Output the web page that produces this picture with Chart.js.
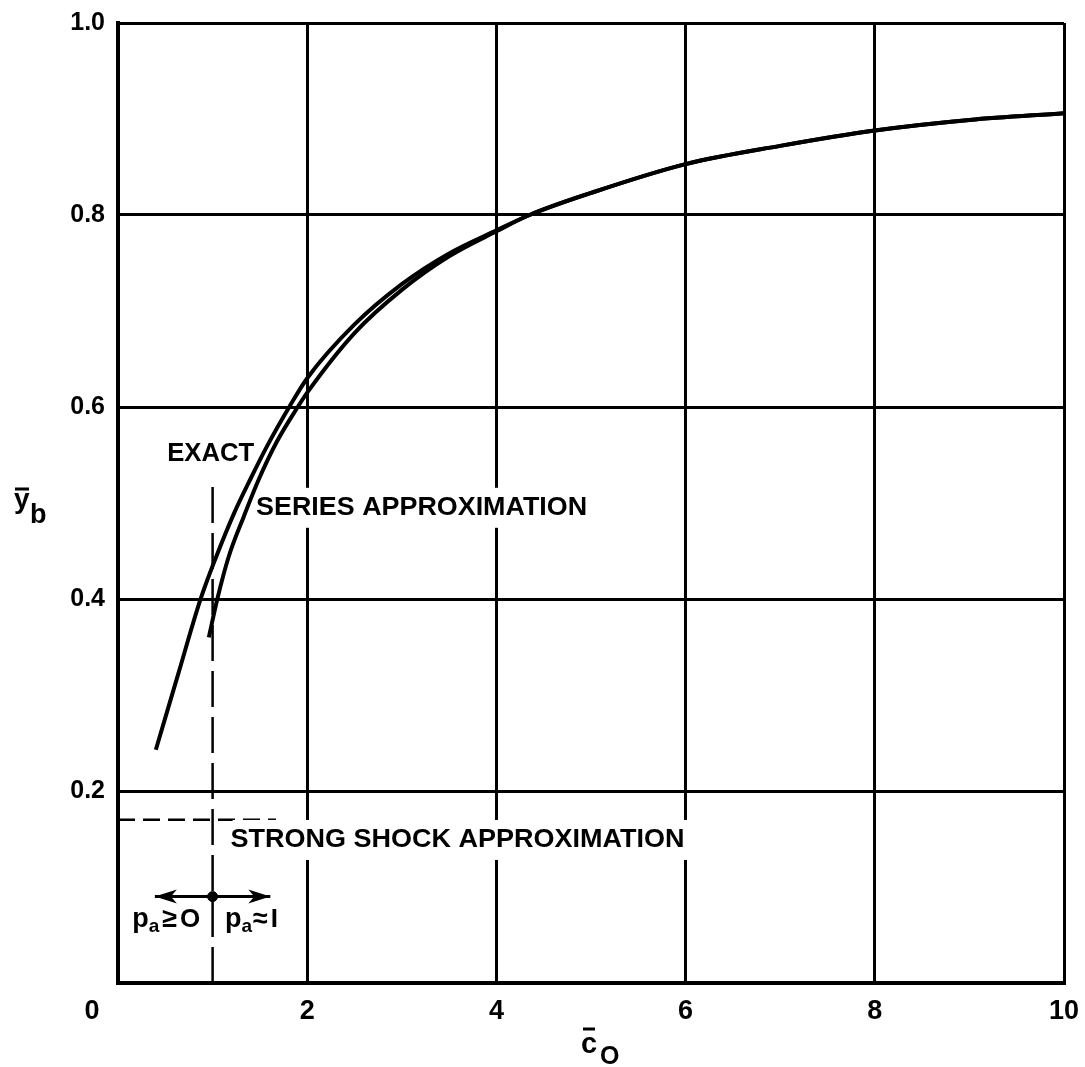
<!DOCTYPE html>
<html>
<head>
<meta charset="utf-8">
<script src="https://cdn.jsdelivr.net/npm/chart.js@4.4.1/dist/chart.umd.min.js"></script>
<style>
  html, body { margin: 0; background: #fff; }
</style>
</head>
<body>
<canvas id="grafico" width="1085" height="1067"></canvas>
<script>
// Dados
const exatoX = [0.40, 0.64, 0.87, 1.03, 1.23, 1.40, 1.58, 1.81, 2.00, 2.50, 3.00, 3.50, 4.00, 4.35, 5.00, 6.00, 7.00, 8.00, 9.00, 10.0];
const exatoY = [0.243, 0.323, 0.399, 0.442, 0.490, 0.525, 0.560, 0.600, 0.630, 0.686, 0.728, 0.760, 0.784, 0.800, 0.823, 0.853, 0.872, 0.888, 0.899, 0.906];

const serieX = [0.96, 1.05, 1.17, 1.33, 1.49, 1.68, 1.90, 2.00, 2.50, 3.00, 3.50, 4.00, 4.35, 5.00, 6.00, 7.00, 8.00, 9.00, 10.0];
const serieY = [0.360, 0.400, 0.444, 0.486, 0.525, 0.564, 0.600, 0.615, 0.677, 0.722, 0.757, 0.783, 0.800, 0.823, 0.853, 0.872, 0.888, 0.899, 0.906];

// linhas tracejadas e seta
const verticalX = [1.0, 1.0];
const verticalY = [0.0, 0.522];
const choqueX = [0.0, 1.67];
const choqueY = [0.17, 0.17];
const setaX = [0.39, 1.61];
const setaY = [0.09, 0.09];
const pontoX = [1.0];
const pontoY = [0.09];

const xTicks = [0, 2, 4, 6, 8, 10];
const yTicks = [0.2, 0.4, 0.6, 0.8, 1.0];

const pares = (xs, ys) => xs.map((x, i) => ({ x: x, y: ys[i] }));

const fonte = 'Liberation Sans';

// textos dentro do gráfico (x, y = canto esquerdo / meio, em valores)
const notas = [
    { texto: 'EXACT', x: 0.52, y: 0.551, largura: 87, fundo: false },
    { texto: 'SERIES APPROXIMATION', x: 1.46, y: 0.495, largura: 331, fundo: true },
    { texto: 'STRONG SHOCK APPROXIMATION', x: 1.19, y: 0.149, largura: 454, fundo: true }
];

function ponta(ctx, px, py, dir) {
    ctx.beginPath();
    ctx.moveTo(px, py);
    ctx.lineTo(px - dir * 22, py - 7);
    ctx.lineTo(px - dir * 16, py);
    ctx.lineTo(px - dir * 22, py + 7);
    ctx.closePath();
    ctx.fill();
}

function escreve(ctx, partes, x0) {
    let x = x0;
    partes.forEach(p => {
        ctx.font = 'bold ' + p.tam + 'px "' + fonte + '"';
        ctx.fillText(p.t, x, p.base);
        x += ctx.measureText(p.t).width + (p.esp || 0);
    });
}

// tira o espaço extra que o Chart.js deixa para os rótulos
function semPadding(s) {
    s.paddingTop = 0;
    s.paddingBottom = 0;
    s.paddingLeft = 0;
    s.paddingRight = 0;
}

const textos = {
    id: 'textos',
    afterDatasetsDraw(chart) {
        const { ctx, chartArea, scales: { x, y } } = chart;
        ctx.save();
        ctx.fillStyle = '#000';
        ctx.textBaseline = 'middle';
        ctx.textAlign = 'left';

        notas.forEach(n => {
            ctx.font = 'bold 25px "' + fonte + '"';
            const px = x.getPixelForValue(n.x);
            const py = y.getPixelForValue(n.y);
            const w = ctx.measureText(n.texto).width;
            if (n.fundo) {
                ctx.fillStyle = '#fff';
                ctx.fillRect(px + 2, py - 20, n.largura + 6, 40);
                ctx.fillStyle = '#000';
            }
            ctx.save();
            ctx.translate(px, py);
            ctx.scale(n.largura / w, 1);
            ctx.fillText(n.texto, 0, 0);
            ctx.restore();
        });

        // pontas da seta
        const meta = chart.getDatasetMeta(4).data;
        ponta(ctx, meta[0].x, meta[0].y, -1);
        ponta(ctx, meta[1].x, meta[1].y, 1);

        // p_a >= 0  |  p_a ~ 1
        ctx.textBaseline = 'alphabetic';
        const base = y.getPixelForValue(0.058);
        escreve(ctx, [
            { t: 'p', tam: 27, base: base },
            { t: 'a', tam: 19, base: base + 5, esp: 3 },
            { t: '≥', tam: 27, base: base, esp: 3 },
            { t: 'O', tam: 26, base: base }
        ], x.getPixelForValue(0.15));
        escreve(ctx, [
            { t: 'p', tam: 27, base: base },
            { t: 'a', tam: 19, base: base + 5, esp: 1 },
            { t: '≈', tam: 27, base: base, esp: 3 },
            { t: 'I', tam: 26, base: base }
        ], x.getPixelForValue(1.13));

        // rótulo 0 do eixo x, deslocado para a esquerda
        ctx.font = 'bold 27px "' + fonte + '"';
        ctx.textAlign = 'center';
        ctx.textBaseline = 'middle';
        ctx.fillText('0', chartArea.left - 26, chartArea.bottom + 29);

        // título do eixo x: c barra, O subscrito
        ctx.textAlign = 'left';
        ctx.textBaseline = 'alphabetic';
        ctx.font = 'bold 29px "' + fonte + '"';
        ctx.fillText('c', 581, 1053);
        ctx.font = 'bold 25px "' + fonte + '"';
        ctx.fillText('O', 600, 1064);
        ctx.lineWidth = 3;
        ctx.beginPath();
        ctx.moveTo(583, 1029);
        ctx.lineTo(595, 1029);
        ctx.stroke();

        // título do eixo y: y barra, b subscrito
        ctx.font = 'bold 28px "' + fonte + '"';
        ctx.fillText('y', 14, 508);
        ctx.font = 'bold 27px "' + fonte + '"';
        ctx.fillText('b', 30, 523);
        ctx.beginPath();
        ctx.moveTo(15, 489);
        ctx.lineTo(29, 489);
        ctx.stroke();

        ctx.restore();
    }
};

const linha = {
    showLine: true,
    borderColor: '#000',
    backgroundColor: '#000',
    pointRadius: 0,
    fill: false
};

new Chart(document.getElementById('grafico'), {
    type: 'scatter',
    data: {
        datasets: [
            { ...linha, label: 'Exact', data: pares(exatoX, exatoY), borderWidth: 4, cubicInterpolationMode: 'monotone' },
            { ...linha, label: 'Series approximation', data: pares(serieX, serieY), borderWidth: 4, cubicInterpolationMode: 'monotone' },
            { ...linha, label: 'c = 1', data: pares(verticalX, verticalY), borderWidth: 2.5, borderDash: [36, 10] },
            { ...linha, label: 'Strong shock approximation', data: pares(choqueX, choqueY), borderWidth: 2.5, borderDash: [17, 8] },
            { ...linha, label: 'seta', data: pares(setaX, setaY), borderWidth: 3 },
            { label: 'ponto', data: pares(pontoX, pontoY), pointRadius: 5, backgroundColor: '#000', borderColor: '#000' }
        ]
    },
    options: {
        responsive: false,
        animation: false,
        devicePixelRatio: 1,
        layout: { padding: { top: 23, right: 21, left: 0, bottom: 0 } },
        plugins: { legend: { display: false }, tooltip: { enabled: false } },
        scales: {
            x: {
                type: 'linear',
                min: 0,
                max: 10,
                afterBuildTicks: s => { s.ticks = xTicks.map(v => ({ value: v })); },
                afterFit: s => { s.height = 84; semPadding(s); },
                ticks: {
                    color: '#000',
                    padding: 12,
                    maxRotation: 0,
                    font: { family: fonte, weight: 'bold', size: 27 },
                    callback: v => (v === 0 ? '' : String(v))
                },
                grid: { color: '#000', lineWidth: 3, drawTicks: false },
                border: { color: '#000', width: 4 }
            },
            y: {
                type: 'linear',
                min: 0,
                max: 1,
                afterBuildTicks: s => { s.ticks = [0].concat(yTicks).map(v => ({ value: v })); },
                afterFit: s => { s.width = 118; semPadding(s); },
                ticks: {
                    color: '#000',
                    padding: 13,
                    font: { family: fonte, weight: 'bold', size: 25 },
                    callback: v => (v === 0 ? '' : v.toFixed(1))
                },
                grid: { color: '#000', lineWidth: 3, drawTicks: false },
                border: { color: '#000', width: 4 }
            }
        }
    },
    plugins: [textos]
});
</script>
</body>
</html>
